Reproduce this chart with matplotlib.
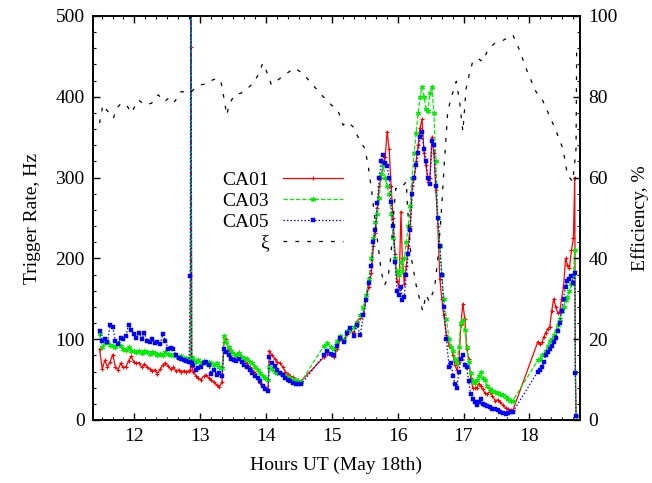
import matplotlib
matplotlib.use('Agg')
import matplotlib.pyplot as plt
from matplotlib.ticker import MultipleLocator

plt.rcParams['font.family'] = ['Liberation Serif', 'DejaVu Serif']

# time stamps (hours UT) shared by the three telescopes
hours = [
    11.47, 11.51, 11.55, 11.59, 11.63, 11.67, 11.71, 11.75, 11.79, 11.83,
    11.87, 11.91, 11.95, 11.99, 12.03, 12.07, 12.11, 12.15, 12.19, 12.23,
    12.27, 12.31, 12.35, 12.39, 12.43, 12.47, 12.51, 12.55, 12.59, 12.63,
    12.67, 12.71, 12.75, 12.79, 12.83,
    12.85, 12.855, 12.86, 12.87,
    12.89, 12.93, 12.97, 13.01, 13.05, 13.09, 13.13, 13.17, 13.21, 13.25,
    13.29, 13.33, 13.36, 13.39, 13.43, 13.47, 13.51, 13.55, 13.59, 13.63,
    13.67, 13.71, 13.75, 13.79, 13.83, 13.87, 13.91, 13.95, 13.99, 14.03,
    14.05, 14.09, 14.13, 14.17, 14.21, 14.25, 14.29, 14.33, 14.37, 14.41,
    14.45, 14.49, 14.53,
    14.88, 14.93, 14.98, 15.03, 15.08, 15.13, 15.18, 15.23, 15.28, 15.33,
    15.38, 15.43, 15.48, 15.52, 15.56, 15.60, 15.63, 15.66, 15.69, 15.72,
    15.75, 15.78, 15.81, 15.84, 15.87, 15.90, 15.93, 15.96, 15.99, 16.02,
    16.05, 16.07, 16.10, 16.13, 16.16, 16.19, 16.22, 16.25, 16.28, 16.31,
    16.34, 16.37, 16.40, 16.43, 16.46, 16.49, 16.52, 16.55, 16.58, 16.61,
    16.64, 16.67, 16.70, 16.74, 16.78,
    16.81, 16.84, 16.87, 16.90, 16.93, 16.96, 16.99, 17.02, 17.05, 17.08,
    17.11, 17.14, 17.17, 17.20, 17.23, 17.26, 17.29, 17.32, 17.36, 17.40,
    17.44, 17.48, 17.52, 17.56, 17.60, 17.64, 17.68, 17.72, 17.75,
    18.13, 18.16, 18.19, 18.22, 18.25, 18.28, 18.31, 18.34, 18.37, 18.40,
    18.43, 18.46, 18.49, 18.52, 18.55, 18.58, 18.61, 18.64, 18.67, 18.69,
    18.70, 18.71,
]

ca01 = [
    88, 63, 74, 66, 72, 81, 66, 62, 70, 65,
    66, 73, 79, 72, 70, 71, 65, 69, 66, 63,
    61, 62, 57, 63, 68, 71, 67, 63, 65, 61,
    62, 60, 61, 60, 61,
    62, 560, 462, 66,
    60, 55, 52, 50, 54, 56, 52, 49, 47, 43,
    41, 47, 96, 100, 86, 78, 76, 80, 84, 78,
    74, 70, 66, 62, 58, 52, 46, 42, 40, 38,
    86, 80, 76, 72, 70, 66, 60, 57, 54, 53,
    50, 49, 48,
    78, 82, 80, 78, 88, 100, 98, 106, 110, 108,
    122, 126, 132, 150, 165, 182, 215, 232, 262, 290,
    300, 318, 326, 357, 335, 290, 250, 205, 172, 165,
    258, 200, 168, 190, 215, 240, 290, 300, 320, 340,
    362, 372, 330, 315, 295, 300, 350, 330, 285, 240,
    175, 150, 130, 105, 92,
    91, 80, 68, 62, 72, 118, 144, 125, 88, 75,
    52, 40, 39, 40, 45, 42, 38, 34, 32, 35,
    30, 24, 25, 22, 18, 15, 14, 12, 12,
    97, 94, 96, 103, 108, 113, 115, 135, 150, 140,
    133, 132, 150, 165, 200, 192, 188, 210, 225, 300,
    58, 5,
]

ca03 = [
    106, 90, 95, 96, 93, 92, 90, 95, 91, 88,
    87, 90, 86, 85, 84, 86, 83, 85, 84, 82,
    84, 83, 81, 82, 80, 84, 82, 80, 81, 79,
    78, 79, 77, 77, 76,
    76, 560, 520, 78,
    75, 72, 74, 70, 73, 71, 72, 70, 68, 70,
    66, 64, 104, 96, 90, 86, 82, 80, 83, 78,
    77, 76, 72, 70, 66, 62, 58, 54, 52, 50,
    66, 63, 60, 58, 58, 56, 55, 53, 52, 50,
    49, 48, 47,
    92, 95, 90, 88, 98, 104, 100, 110, 112, 115,
    120, 130, 140, 155, 175, 200, 225, 245, 255, 275,
    305, 315, 300, 290, 280, 255, 225, 200, 185, 180,
    195, 185, 200, 220, 240, 265, 300, 330, 355, 380,
    400, 412, 400, 385, 382, 405, 412, 380, 320, 250,
    215, 180, 150, 125, 100,
    90, 85, 75, 70, 90, 120, 124, 112, 90, 72,
    58, 48, 46, 50, 55, 60, 52, 50, 42, 38,
    36, 35, 34, 32, 31, 28, 26, 24, 24,
    74, 76, 80, 82, 86, 92, 98, 100, 105, 110,
    118, 125, 135, 140, 148, 152, 160, 168, 180, 210,
    60, 5,
]

ca05 = [
    110, 98, 100, 96, 118, 115, 98, 94, 101, 100,
    104, 118, 112, 106, 102, 108, 100, 108, 98, 96,
    100, 95, 97, 94, 106, 98, 88, 89, 88, 80,
    77, 75, 74, 73, 72,
    178, 560, 540, 70,
    68, 62, 64, 66, 70, 72, 68, 57, 62, 56,
    58, 55, 88, 84, 80, 76, 74, 73, 75, 72,
    68, 66, 62, 58, 55, 52, 48, 42, 38, 36,
    78, 70, 67, 62, 58, 56, 52, 50, 48, 46,
    45, 44, 44,
    80, 86, 82, 80, 92, 102, 96, 108, 114, 104,
    118, 105, 130, 148, 170, 190, 220, 235, 268, 300,
    320, 328, 318, 314, 300, 270, 240, 195, 160, 155,
    165, 148, 152, 180, 205, 235, 280, 300, 315, 330,
    350, 357, 335, 320, 300, 292, 345, 340, 290, 250,
    215, 180, 140, 100, 66,
    70, 55, 45, 40, 60, 75, 80, 68, 65, 48,
    32, 26, 22, 18, 22, 26, 20, 18, 17, 16,
    14, 14, 12, 10, 9, 8, 9, 10, 10,
    60, 62, 66, 72, 80, 84, 88, 92, 96, 102,
    110, 120, 135, 150, 165, 172, 175, 178, 170, 182,
    58, 5,
]

# efficiency xi, %
xi_hours = [
    11.47, 11.52, 11.60, 11.68, 11.73, 11.80, 11.88, 11.95, 12.06, 12.16,
    12.26, 12.36, 12.46, 12.54, 12.61, 12.71, 12.84, 12.92, 13.02, 13.12,
    13.19, 13.27, 13.32, 13.37, 13.40, 13.45, 13.52, 13.62, 13.72, 13.80,
    13.88, 13.95, 14.00, 14.08, 14.15, 14.28, 14.43, 14.56, 14.69, 14.84,
    14.99, 15.09, 15.17, 15.24, 15.32, 15.42, 15.50, 15.55, 15.60, 15.67,
    15.75, 15.80, 15.85, 15.90, 15.92, 15.97, 16.05, 16.13, 16.15, 16.20,
    16.28, 16.33, 16.38, 16.43, 16.48, 16.56, 16.61, 16.66, 16.71, 16.76,
    16.81, 16.89, 16.94, 16.99, 17.04, 17.09, 17.14, 17.22, 17.29, 17.37,
    17.47, 17.57, 17.75, 17.85, 17.97, 18.10, 18.20, 18.30, 18.40, 18.51,
    18.58, 18.66, 18.71, 18.72,
]
xi = [
    73.5, 78.0, 76.3, 74.7, 77.2, 78.4, 78.0, 76.0, 79.2, 78.0,
    78.4, 80.5, 78.8, 80.0, 78.8, 81.3, 80.9, 82.1, 83.0, 83.3,
    84.2, 84.6, 83.3, 78.8, 75.5, 78.4, 80.5, 80.9, 82.1, 83.3,
    85.4, 88.3, 86.6, 83.0, 83.8, 85.4, 87.1, 85.8, 83.3, 80.5,
    78.0, 76.7, 73.0, 73.8, 72.6, 69.3, 67.2, 63.1, 57.3, 47.4,
    36.7, 33.4, 35.1, 40.8, 47.4, 57.3, 57.3, 59.0, 52.4, 40.8,
    33.4, 30.1, 27.0, 31.0, 29.3, 32.6, 40.0, 50.7, 64.0, 76.3,
    79.6, 83.8, 78.8, 71.4, 82.1, 85.8, 88.7, 89.5, 88.7, 91.6,
    93.2, 93.7, 95.3, 91.6, 86.2, 81.3, 79.2, 75.5, 71.8, 67.2,
    60.6, 59.0, 67.2, 92.8,
]

fig = plt.figure(figsize=(6.52, 4.83), dpi=100)
ax = fig.add_axes([93 / 652, 63 / 483, 487 / 652, 404 / 483])
ax2 = ax.twinx()

l1, = ax.plot(hours, ca01, color='#ff0000', lw=0.9, ls='-', marker='+',
              ms=3.5, mew=0.8, label='CA01')
l2, = ax.plot(hours, ca03, color='#00ee00', lw=0.9, ls=(0, (3.5, 1.5)),
              marker=(6, 2, 0), ms=3.8, mew=0.8, label='CA03')
l3, = ax.plot(hours, ca05, color='#0000ff', lw=0.9, ls=(0, (1.2, 1.6)),
              marker='s', ms=3.0, mew=0.3, label='CA05')
l4, = ax2.plot(xi_hours, xi, color='black', lw=0.9, ls=(0, (3, 6.5)),
               label='ξ')

ax.set_xlim(11.37, 18.77)
ax.set_ylim(0, 500)
ax2.set_ylim(0, 100)
ax.set_xticks(range(12, 19))
ax.xaxis.set_minor_locator(MultipleLocator(1 / 6))
ax.set_yticks(range(0, 501, 100))
ax.yaxis.set_minor_locator(MultipleLocator(20))
ax2.set_yticks(range(0, 101, 20))
ax2.yaxis.set_minor_locator(MultipleLocator(4))

ax.tick_params(which='both', direction='in', top=True, right=False,
               labelsize=14, pad=6)
ax.tick_params(which='major', length=5, width=1)
ax.tick_params(which='minor', length=2.5, width=0.8)
ax2.tick_params(which='both', direction='in', labelsize=14, pad=6)
ax2.tick_params(which='major', length=5, width=1)
ax2.tick_params(which='minor', length=2.5, width=0.8)
for a in (ax, ax2):
    for s in a.spines.values():
        s.set_linewidth(1.2)

ax.set_xlabel('Hours UT (May 18th)', fontsize=14, labelpad=8)
ax.set_ylabel('Trigger Rate, Hz', fontsize=14, labelpad=10)
ax2.set_ylabel('Efficiency, %', fontsize=14, labelpad=10)

ax2.legend(handles=[l1, l2, l3, l4], loc='upper right',
           bbox_to_anchor=(0.513, 0.615), frameon=False, markerfirst=False,
           numpoints=1, fontsize=14, handlelength=3.1, handletextpad=0.7,
           labelspacing=0.16, borderpad=0, borderaxespad=0)

fig.savefig('out.png', dpi=100)
